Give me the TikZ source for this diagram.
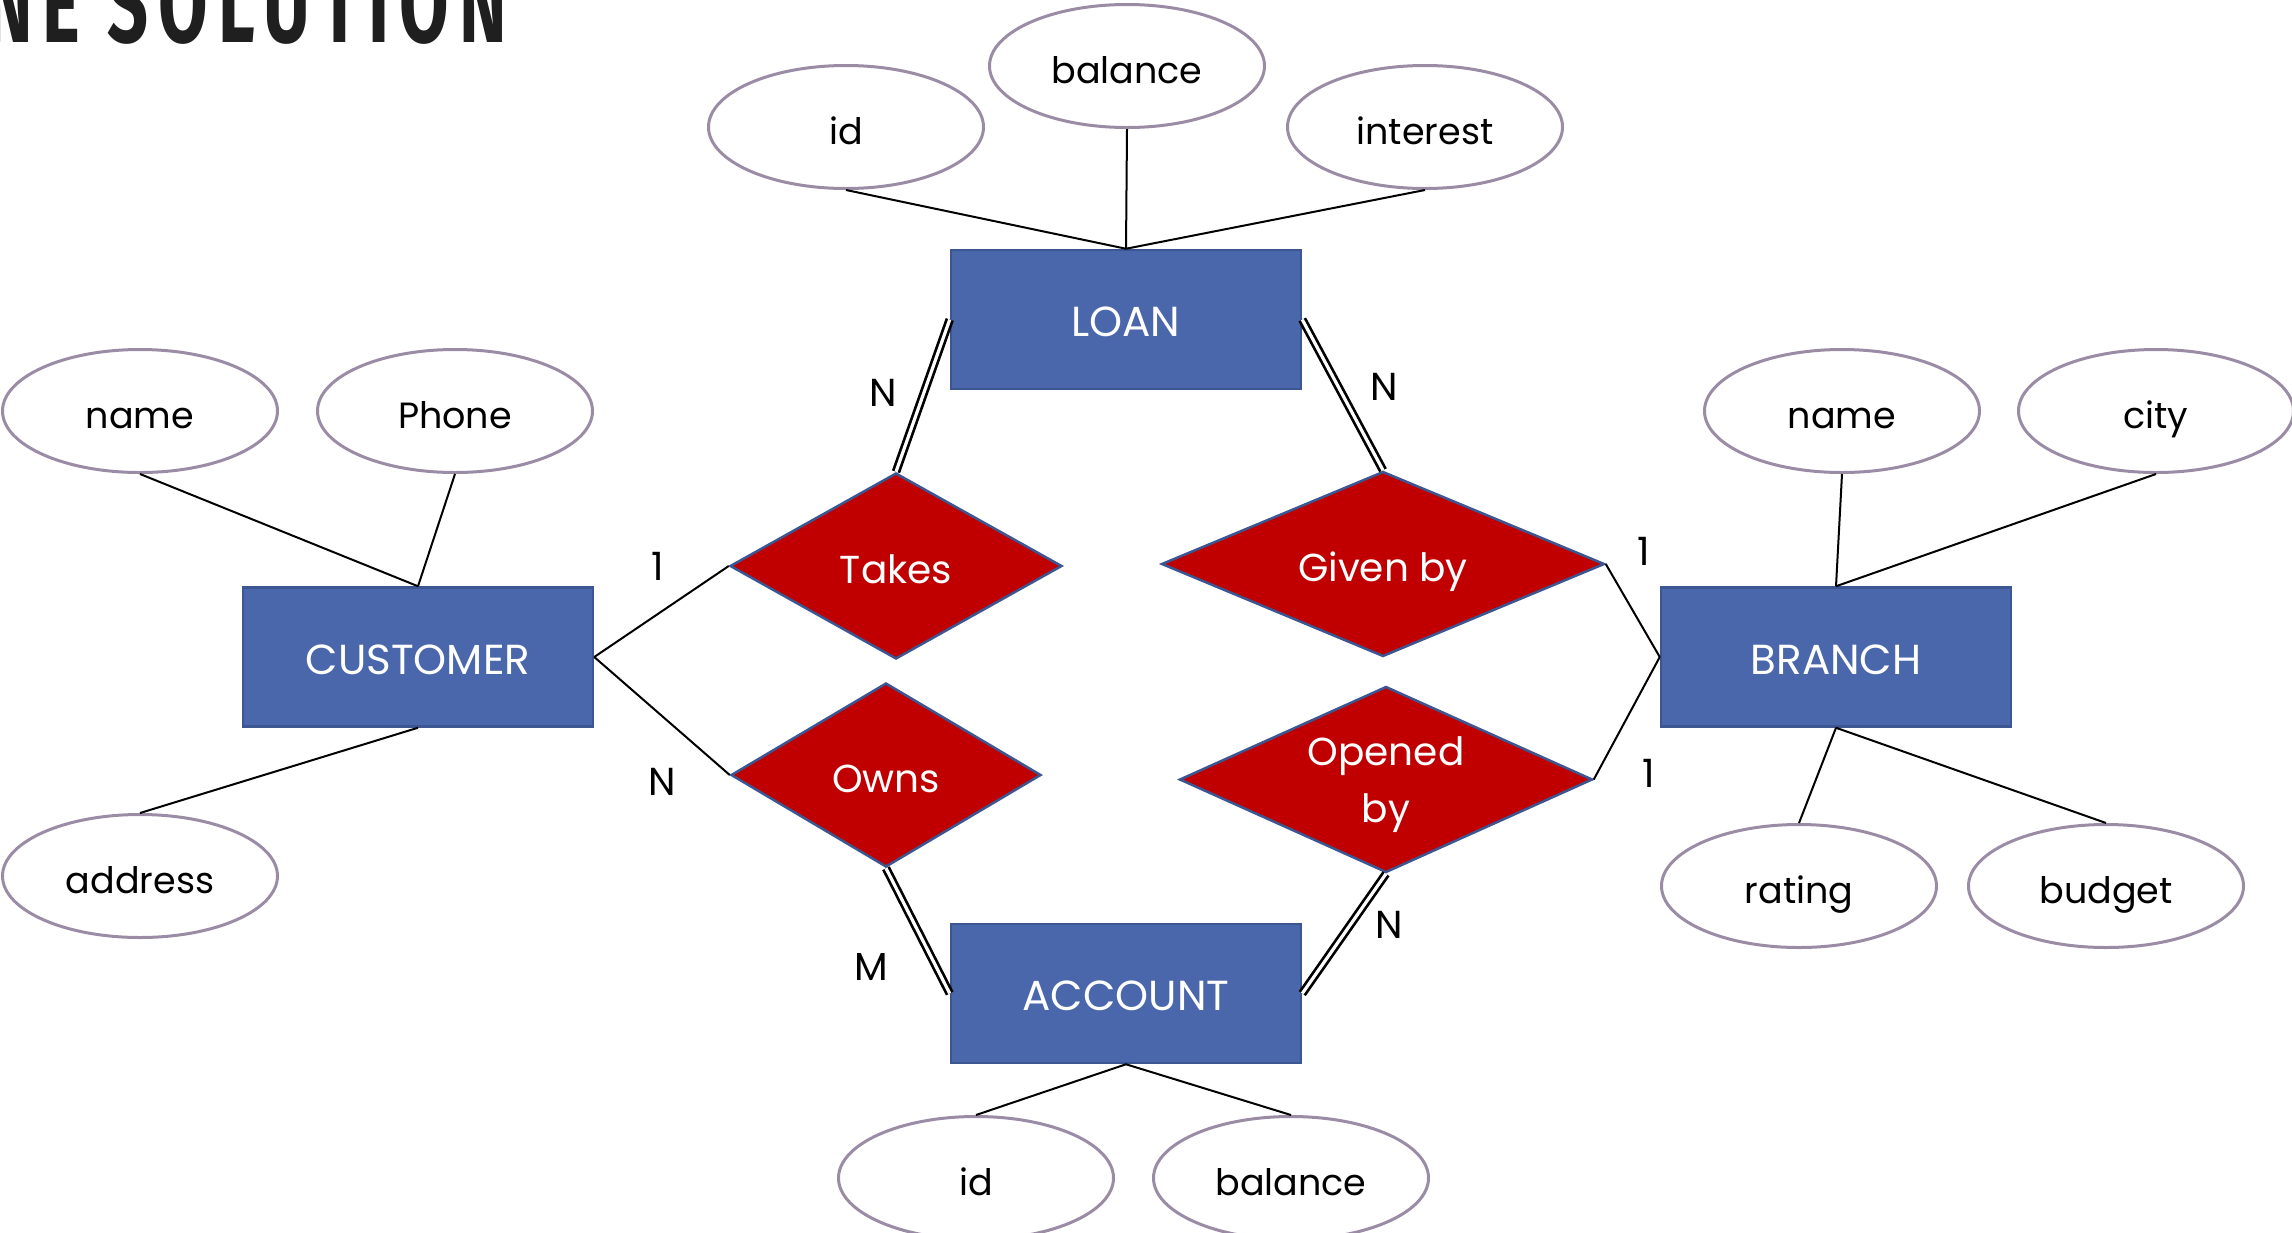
\documentclass[tikz,border=0pt]{standalone}
\usepackage{fontspec}
\setmainfont{Poppins}
\newfontfamily\titlefont[FakeStretch=0.64,LetterSpace=9]{Fira Sans}
\usetikzlibrary{shapes.geometric}

\definecolor{entfill}{RGB}{74,103,172}
\definecolor{entline}{RGB}{60,86,145}
\definecolor{relfill}{RGB}{192,0,0}
\definecolor{attline}{RGB}{155,140,165}

\tikzset{
  lbl/.style={font=\fontsize{39}{57}\selectfont},
  boxed/.style={text height=40pt, text depth=6pt},
  entity/.style={font=\fontsize{42}{57}\selectfont, boxed, rectangle, draw=entline,
    fill=entfill, line width=2.5pt, minimum width=350pt, minimum height=139pt,
    inner sep=0pt, text=white},
  relation/.style={lbl, boxed, diamond, aspect=2.4, draw=entline, fill=relfill,
    line width=2.5pt, inner sep=0pt, text=white, align=center},
  attr/.style={font=\fontsize{36.5}{57}\selectfont, boxed, ellipse, draw=attline,
    fill=white, line width=3pt, minimum width=275pt, minimum height=123pt,
    inner sep=0pt},
  link/.style={draw=black, line width=2pt},
  total/.style={draw=black, double=white, line width=2.7pt, double distance=3.2pt},
  card/.style={lbl, inner sep=0pt}
}

\begin{document}
\begin{tikzpicture}[x=1pt, y=-1pt]
\useasboundingbox (0,0) rectangle (2292,1232);
\clip (0,0) rectangle (2292,1232);

% heading, running off the top edge
\node[anchor=base west, inner sep=0pt,
      font=\titlefont\bfseries\fontsize{112}{112}\selectfont, text=black!88]
  (title) at (-15,42) {NE SOLUTION};

% entities
\node[entity] (loan)     at (1126,319.5) {LOAN};
\node[entity] (account)  at (1126,993.5) {ACCOUNT};
\node[entity] (customer) at (418,657)    {CUSTOMER};
\node[entity] (branch)   at (1836,657)   {BRANCH};

% relationships
\node[relation, minimum width=332pt, minimum height=186pt] (takes)   at (896,566)    {Takes};
\node[relation, minimum width=310pt, minimum height=184pt] (owns)    at (886,775)    {Owns};
\node[relation, minimum width=443pt, minimum height=185pt] (givenby) at (1383,564)   {Given by};
\node[relation, minimum width=413pt, minimum height=186pt,
      text height=90pt, text depth=5pt] (opened) at (1386,779.5) {Opened\\by};

% attributes
\node[attr] (lid)     at (846,127)  {id};
\node[attr] (lbal)    at (1127,66)  {balance};
\node[attr] (lint)    at (1425,127) {interest};
\node[attr] (cname)   at (140,411)  {name};
\node[attr] (cphone)  at (455,411)  {Phone};
\node[attr] (caddr)   at (140,876)  {address};
\node[attr] (bname)   at (1842,411) {name};
\node[attr] (bcity)   at (2156,411) {city};
\node[attr] (brating) at (1799,886) {rating};
\node[attr] (bbudget) at (2106,886) {budget};
\node[attr] (aid)     at (976,1178) {id};
\node[attr] (abal)    at (1291,1178){balance};

% attribute links
\draw[link] (loan.north) -- (lid.south);
\draw[link] (loan.north) -- (lbal.south);
\draw[link] (loan.north) -- (lint.south);
\draw[link] (customer.north) -- (cname.south);
\draw[link] (customer.north) -- (cphone.south);
\draw[link] (customer.south) -- (caddr.north);
\draw[link] (branch.north) -- (bname.south);
\draw[link] (branch.north) -- (bcity.south);
\draw[link] (branch.south) -- (brating.north);
\draw[link] (branch.south) -- (bbudget.north);
\draw[link] (account.south) -- (aid.north);
\draw[link] (account.south) -- (abal.north);

% relationship links
\draw[link] (customer.east) -- (takes.west);
\draw[link] (customer.east) -- (owns.west);
\draw[link] (givenby.east) -- (branch.west);
\draw[link] (opened.east) -- (branch.west);
\draw[total] (takes.north) -- (loan.west);
\draw[total] (loan.east) -- (givenby.north);
\draw[total] (owns.south) -- (account.west);
\draw[total] (account.east) -- (opened.south);

% cardinalities
\node[card] (c1) at (883,393)   {N};
\node[card] (c2) at (1384,387)  {N};
\node[card] (c3) at (658,566)   {1};
\node[card] (c4) at (662,782)   {N};
\node[card] (c5) at (1644,551)  {1};
\node[card] (c6) at (1649,773)  {1};
\node[card] (c7) at (871,967)   {M};
\node[card] (c8) at (1389,925)  {N};
\end{tikzpicture}
\end{document}
